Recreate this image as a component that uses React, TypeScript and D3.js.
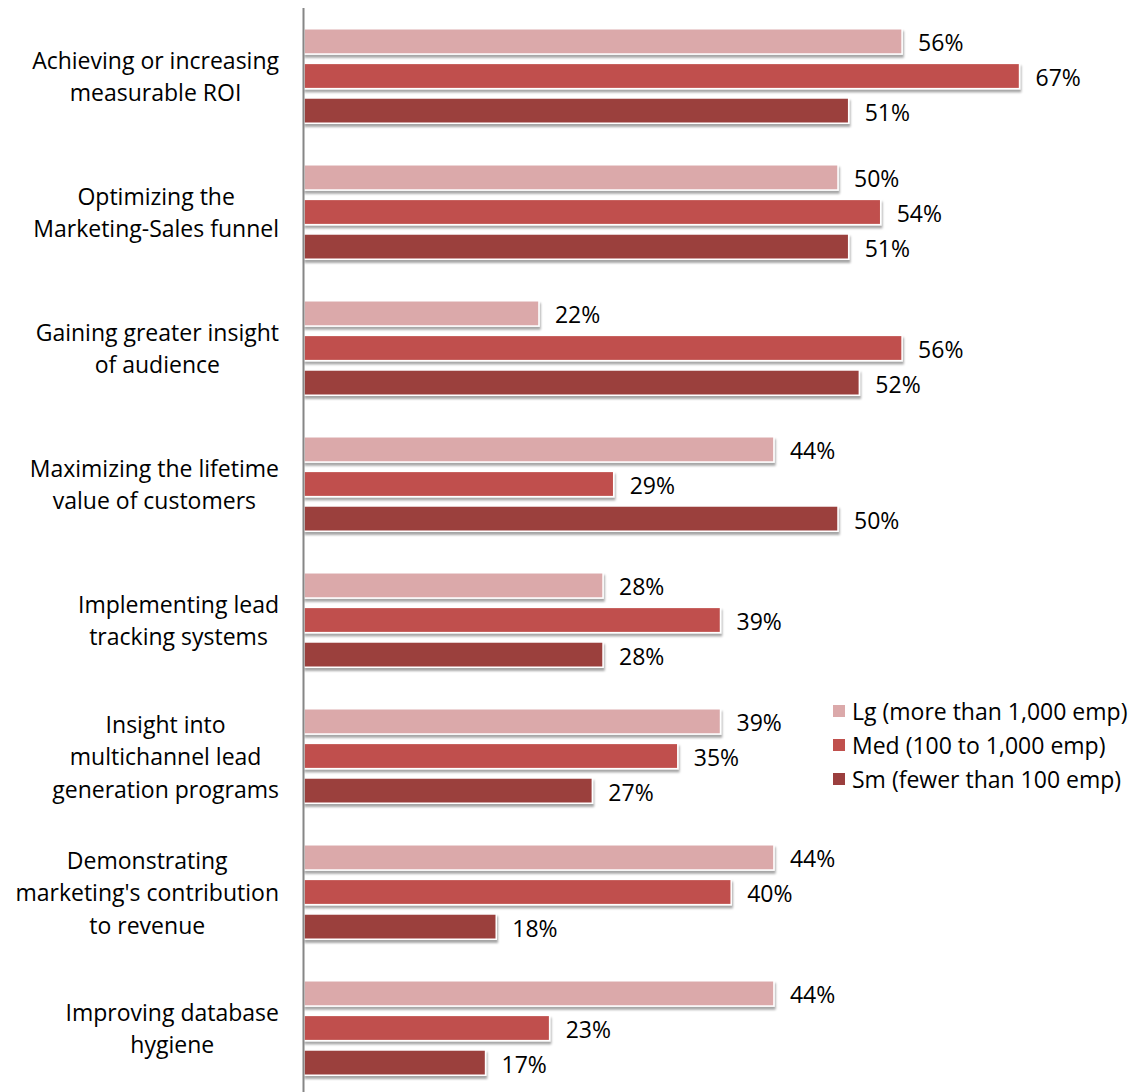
import React from "react";
import * as d3 from "d3";

const categories: string[][] = [
  ["Achieving or increasing", "measurable ROI"],
  ["Optimizing the", "Marketing-Sales funnel"],
  ["Gaining greater insight", "of audience"],
  ["Maximizing the lifetime", "value of customers"],
  ["Implementing lead", "tracking systems"],
  ["Insight into", "multichannel lead", "generation programs"],
  ["Demonstrating", "marketing's contribution", "to revenue"],
  ["Improving database", "hygiene"],
];

const seriesNames = [
  "Lg (more than 1,000 emp)",
  "Med (100 to 1,000 emp)",
  "Sm (fewer than 100 emp)",
];

const lgValues = [56, 50, 22, 44, 28, 39, 44, 44];
const medValues = [67, 54, 56, 29, 39, 35, 40, 23];
const smValues = [51, 51, 52, 50, 28, 27, 18, 17];

const seriesColors = ["#dba9aa", "#c0504d", "#9b3f3e"];

const W = 1136;
const H = 1092;
const FONT = "'Open Sans', sans-serif";
const FS = 23;

function measure(text: string): number {
  if (typeof document === "undefined") return text.length * 10;
  const c = document.createElement("canvas");
  const ctx = c.getContext("2d")!;
  ctx.font = `${FS}px ${FONT}`;
  return ctx.measureText(text).width;
}

export default function App() {
  const values = [lgValues, medValues, smValues];
  const keys = categories.map((c) => c.join(" "));
  const y = d3.scaleBand<string>().domain(keys).range([8, 1096]).padding(0);
  const ys = d3
    .scaleBand<number>()
    .domain([0, 1, 2])
    .range([0, y.bandwidth()])
    .paddingInner(0.27)
    .paddingOuter(0.6);
  const x = d3.scaleLinear().domain([0, 100]).range([304, 304 + 1068]);
  const barH = ys.bandwidth();
  const labelRight = 279;
  const lineH = 32.5;

  return (
    <svg
      width={W}
      height={H}
      style={{ position: "absolute", left: 0, top: 0, background: "#fff" }}
      fontFamily={FONT}
    >
      <defs>
        <filter id="sh" x="-5%" y="-30%" width="110%" height="180%">
          <feDropShadow dx="1" dy="3" stdDeviation="1.3" floodColor="#000" floodOpacity="0.35" />
        </filter>
      </defs>
      <rect width={W} height={H} fill="#fff" />
      {keys.map((k, ci) => (
        <g key={k}>
          {values.map((vals, si) => {
            const y0 = (y(k) as number) + (ys(si) as number);
            const x1 = x(vals[ci]);
            return (
              <g key={si}>
                <rect
                  x={x(0)}
                  y={y0}
                  width={x1 - x(0)}
                  height={barH}
                  fill={seriesColors[si]}
                  stroke="#fff"
                  strokeWidth={1.5}
                  filter="url(#sh)"
                />
                <text
                  x={x1 + 16}
                  y={y0 + barH / 2 + 1}
                  dominantBaseline="central"
                  fontSize={FS}
                  fill="#000"
                >
                  {vals[ci]}%
                </text>
              </g>
            );
          })}
        </g>
      ))}
      {categories.map((lines, ci) => {
        const k = keys[ci];
        const cy = (y(k) as number) + y.bandwidth() / 2;
        const bw = Math.max(...lines.map(measure));
        const cx = labelRight - bw / 2;
        return (
          <g key={k}>
            {lines.map((ln, li) => (
              <text
                key={li}
                x={cx}
                y={cy + (li - (lines.length - 1) / 2) * lineH}
                textAnchor="middle"
                dominantBaseline="central"
                fontSize={FS}
                fill="#000"
              >
                {ln}
              </text>
            ))}
          </g>
        );
      })}
      <line x1={303.5} x2={303.5} y1={8} y2={H} stroke="#868686" strokeWidth={2} />
      {seriesNames.map((s, i) => (
        <g key={s} transform={`translate(833, ${711 + i * 34})`}>
          <rect x={0} y={-6} width={12} height={12} fill={seriesColors[i]} />
          <text x={19} y={0} dominantBaseline="central" fontSize={FS} fill="#000">
            {s}
          </text>
        </g>
      ))}
    </svg>
  );
}
